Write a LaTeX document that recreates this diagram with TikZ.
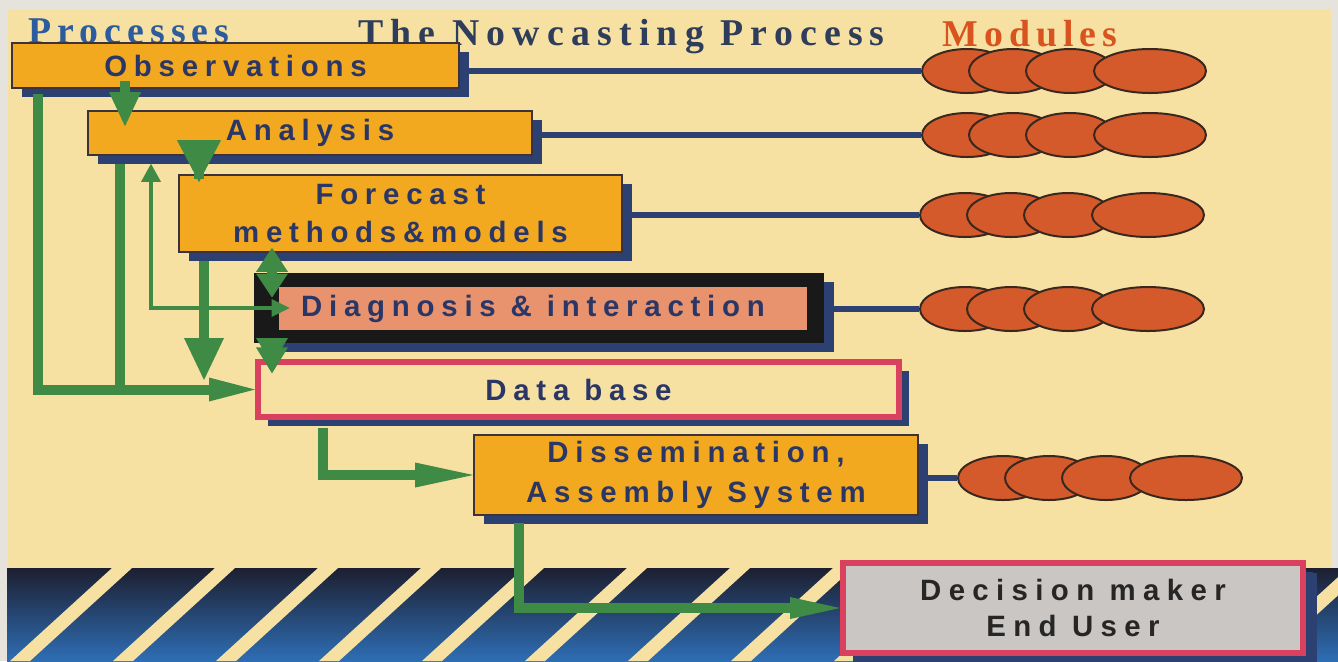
\documentclass[tikz,border=0pt]{standalone}
\usepackage{fontspec}
\usetikzlibrary{arrows.meta,positioning,shadows,shapes.geometric}
\newfontfamily\boxfont[LetterSpace=23]{Liberation Sans}
\newfontfamily\decfont[LetterSpace=25]{Liberation Sans}
\newfontfamily\titlefont[LetterSpace=16]{Liberation Serif}
\definecolor{paper}{RGB}{246,225,163}
\definecolor{margin}{RGB}{230,227,220}
\definecolor{boxorange}{RGB}{242,169,32}
\definecolor{boxedge}{RGB}{60,50,60}
\definecolor{shadownavy}{RGB}{45,64,114}
\definecolor{textnavy}{RGB}{42,55,102}
\definecolor{ggreen}{RGB}{63,138,69}
\definecolor{modulefill}{RGB}{212,90,43}
\definecolor{moduleedge}{RGB}{58,40,30}
\definecolor{pinkedge}{RGB}{217,65,95}
\definecolor{salmon}{RGB}{232,146,110}
\definecolor{decgray}{RGB}{201,198,195}
\definecolor{titleblue}{RGB}{44,92,158}
\definecolor{titledark}{RGB}{46,61,90}
\definecolor{titleorange}{RGB}{216,83,30}
\definecolor{stripetop}{RGB}{29,31,48}
\definecolor{stripebot}{RGB}{46,110,181}

\begin{document}
\begin{tikzpicture}[x=0.5pt,y=-0.5pt,>=Stealth,
  title/.style={inner sep=0pt,anchor=base west,font=\titlefont\bfseries\fontsize{18.9}{22}\selectfont},
  boxshadow/.style={drop shadow={shadow xshift=5pt,shadow yshift=-4.5pt,fill=shadownavy,opacity=1}},
  proc/.style={boxshadow,draw=boxedge,line width=0.8pt,fill=boxorange,inner sep=0pt,align=center,
    font=\boxfont\bfseries\fontsize{14.7}{19}\selectfont,text=textnavy},
  pinkbox/.style={proc,draw=pinkedge,line width=3pt},
  module/.style={ellipse,draw=moduleedge,line width=1pt,fill=modulefill,minimum height=22pt,inner sep=0pt},
  modline/.style={draw=shadownavy,line width=3pt},
  gthick/.style={draw=ggreen,line width=5pt},
  gthin/.style={draw=ggreen,line width=2pt}]
\useasboundingbox (0,0) rectangle (1338,661);
\fill[paper] (0,0) rectangle (1338,661);
\fill[margin] (0,0) rectangle (8,661);
\fill[margin] (0,0) rectangle (1338,9);
\fill[margin] (1331,0) rectangle (1338,568);

% striped band
\shade[top color=stripetop,bottom color=stripebot] (7,568) rectangle (1338,661);
\begin{scope}
\clip (7,568) rectangle (1338,661);
\foreach \k in {0,...,12}
  \fill[paper] (112+103*\k,568) -- (132+103*\k,568) -- (30+103*\k,661) -- (10+103*\k,661) -- cycle;
\end{scope}

\node[title,text=titleblue] (tproc) at (28,43) {Processes};
\node[title,text=titledark] (tnow) at (358,45) {\addfontfeature{LetterSpace=19}The Nowcasting Process};
\node[title,text=titleorange] (tmod) at (942,46) {Modules};

% process boxes
\node[proc,minimum width=223.5pt,minimum height=22.5pt] (obs) at (235.5,65.5) {Observations};
\node[proc,minimum width=222pt,minimum height=22pt] (ana) at (310,133) {Analysis};
\node[proc,minimum width=221.5pt,minimum height=38.5pt] (fore) at (400.5,213.5) {Forecast\\methods\&models};
\node[boxshadow,fill=black!90,inner sep=0pt,minimum width=285pt,minimum height=35pt] (diagf) at (539,308) {};
\node[fill=salmon,inner sep=0pt,font=\boxfont\bfseries\fontsize{14.7}{19}\selectfont,text=textnavy,
  minimum width=264pt,minimum height=21.5pt] (diag) at (543,308.5) {Diagnosis \& interaction\hspace*{10pt}};
\node[pinkbox,fill=paper,minimum width=320.5pt,minimum height=27.5pt] (db) at (578.5,389.5) {Data base};
\node[proc,minimum width=222pt,minimum height=40pt] (diss) at (696,475) {Dissemination,\\[1pt]Assembly System};
\node[pinkbox,fill=decgray,text=black!85,font=\decfont\bfseries\fontsize{14.7}{18}\selectfont,
  drop shadow={shadow xshift=7pt,shadow yshift=-5pt,fill=shadownavy,opacity=1},
  minimum width=230pt,minimum height=45pt] (dec) at (1073,608) {Decision maker\\End User};

% modules
\foreach \r/\L/\y in {1/922/71,2/922/135,3/920/215,4/920/309,5/958/478}{
  \node[module,minimum width=45pt] (m\r a) at (\L+45,\y) {};
  \node[module,minimum width=44pt] (m\r b) at (\L+91,\y) {};
  \node[module,minimum width=44pt] (m\r c) at (\L+148,\y) {};
  \node[module,minimum width=56pt] (m\r d) at (\L+228,\y) {};
}
\draw[modline] (obs.east |- m1a) -- (m1a.west);
\draw[modline] (ana.east |- m2a) -- (m2a.west);
\draw[modline] (fore.east |- m3a) -- (m3a.west);
\draw[modline] (diagf.east |- m4a) -- (m4a.west);
\draw[modline] (diss.east |- m5a) -- (m5a.west);

% flow
\draw[gthick,-{Triangle[width=16pt,length=17pt,line width=0pt]},shorten <=-4pt,shorten >=-8pt]
  (125,0 |- obs.south) -- (125,0 |- ana.north);
\draw[gthick,-{Triangle[width=22pt,length=21pt,line width=0pt]},shorten <=-11.5pt,shorten >=-4pt]
  (199,0 |- ana.south) -- (199,0 |- fore.north);
\draw[gthick,-{Triangle[width=12pt,length=23pt,line width=0pt]},shorten <=2.5pt]
  (38,0 |- obs.south) |- (db.west);
\draw[gthick,shorten <=4pt] (120,0 |- ana.south) -- (120,0 |- db.west);
\draw[gthin,{Triangle[width=9pt,length=9pt,line width=0pt]}-{Triangle[width=10pt,length=9pt,line width=0pt]},
  shorten <=-18pt,shorten >=4pt] (diagf.west) -| (151,0 |- ana.south);
\draw[gthick,-{Triangle[width=20pt,length=21pt,line width=0pt]},shorten <=4pt,shorten >=-10.5pt]
  (204,0 |- fore.south) -- (204,0 |- db.north);
\draw[gthick,{Triangle[width=16pt,length=12pt,line width=0pt]}-{Triangle[width=16pt,length=12pt,line width=0pt]},
  shorten <=-2.5pt,shorten >=-12.5pt] (272,0 |- fore.south) -- (272,0 |- diagf.north);
\draw[gthick,{Triangle[width=16pt,length=13pt,line width=0pt]}-{Triangle[width=16pt,length=13pt,line width=0pt]},
  shorten <=-15pt,shorten >=-2.5pt] (272,0 |- diagf.south) -- (272,0 |- db.north);
\draw[gthick,-{Triangle[width=12.5pt,length=29pt,line width=0pt]},shorten <=4pt]
  (323,0 |- db.south) |- (diss.west);
\draw[gthick,-{Triangle[width=11pt,length=25pt,line width=0pt]},shorten <=3.5pt]
  (519,0 |- diss.south) |- (dec.west);
\end{tikzpicture}
\end{document}
